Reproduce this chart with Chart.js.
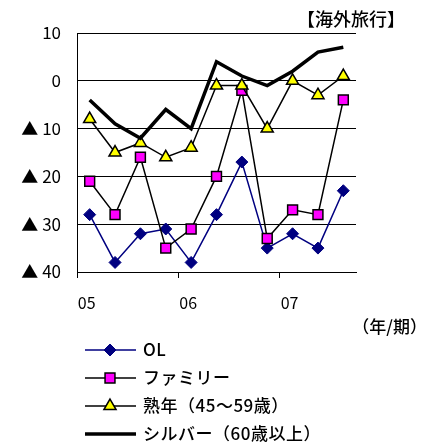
<!DOCTYPE html>
<html>
<head>
<meta charset="utf-8">
<script src="https://cdn.jsdelivr.net/npm/chart.js@4"></script>
<style>
  body { margin: 0; background: #fff; }
  canvas { display: block; }
</style>
</head>
<body>
<canvas id="grafico" width="436" height="445"></canvas>
<script>
// 四半期ごと（05〜07）
const periodos = ['05', '', '', '', '06', '', '', '', '07', '', ''];
const yTicks = [10, 0, -10, -20, -30, -40];

const ol = [-28, -38, -32, -31, -38, -28, -17, -35, -32, -35, -23];
const familia = [-21, -28, -16, -35, -31, -20, -2, -33, -27, -28, -4];
const jukunen = [-8, -15, -13, -16, -14, -1, -1, -10, 0, -3, 1];
const silver = [-4, -9, -12, -6, -10, 4, 1, -1, 2, 6, 7];

const nomes = ['OL', 'ファミリー', '熟年（45～59歳）', 'シルバー（60歳以上）'];

const FONTE_JP = '"Noto Sans CJK JP", sans-serif';

function fmtTick(v) {
  return v < 0 ? '▲ ' + Math.abs(v) : String(v);
}

const legendaPlugin = {
  id: 'legendaVertical',
  afterDraw(chart) {
    const ctx = chart.ctx;
    ctx.save();
    // título e unidade
    ctx.fillStyle = '#000';
    ctx.font = '500 18px ' + FONTE_JP;
    ctx.textBaseline = 'middle';
    ctx.textAlign = 'right';
    ctx.fillText('【海外旅行】', 405, 19);
    ctx.font = '500 17px ' + FONTE_JP;
    ctx.fillText('（年/期）', 427, 327);

    // legenda vertical
    ctx.textAlign = 'left';
    chart.data.datasets.forEach((ds, i) => {
      const y = 350 + i * 28;
      ctx.strokeStyle = ds.borderColor;
      ctx.lineWidth = ds.borderWidth;
      ctx.beginPath();
      ctx.moveTo(85, y);
      ctx.lineTo(136, y);
      ctx.stroke();
      if (ds.pointRadius > 0) {
        ctx.fillStyle = ds.pointBackgroundColor;
        ctx.strokeStyle = ds.pointBorderColor;
        ctx.lineWidth = ds.pointBorderWidth;
        Chart.helpers.drawPoint(ctx, {
          pointStyle: ds.pointStyle, radius: ds.pointRadius,
          rotation: 0, borderWidth: ds.pointBorderWidth
        }, 110, y);
      }
      ctx.fillStyle = '#000';
      ctx.font = '500 17px ' + FONTE_JP;
      ctx.letterSpacing = '0.5px';
      ctx.fillText(ds.label, 143, y);
      ctx.letterSpacing = '0px';
    });
    ctx.restore();
  }
};

new Chart(document.getElementById('grafico'), {
  type: 'line',
  data: {
    labels: periodos,
    datasets: [
      { label: nomes[0], data: ol, order: 4, borderColor: '#000080', borderWidth: 1.5,
        pointStyle: 'rectRot', pointRadius: 6, pointBackgroundColor: '#000080',
        pointBorderColor: '#000080', pointBorderWidth: 1 },
      { label: nomes[1], data: familia, order: 3, borderColor: '#000', borderWidth: 1.5,
        pointStyle: 'rect', pointRadius: 7, pointBackgroundColor: '#ff00ff',
        pointBorderColor: '#000', pointBorderWidth: 1.5 },
      { label: nomes[2], data: jukunen, order: 2, borderColor: '#000', borderWidth: 1.5,
        pointStyle: 'triangle', pointRadius: 7, pointBackgroundColor: '#ffff00',
        pointBorderColor: '#000', pointBorderWidth: 1.5 },
      { label: nomes[3], data: silver, order: 1, borderColor: '#000', borderWidth: 3.5,
        pointRadius: 0, pointBackgroundColor: '#000', pointBorderColor: '#000', pointBorderWidth: 0 }
    ]
  },
  options: {
    responsive: false,
    animation: false,
    events: [],
    layout: { padding: { top: 33, right: 80, left: 0, bottom: 0 } },
    elements: { line: { tension: 0 } },
    plugins: { legend: { display: false }, tooltip: { enabled: false } },
    scales: {
      x: {
        offset: true,
        afterFit: s => { s.height = 173; },
        grid: {
          offset: true, drawOnChartArea: false, drawTicks: true, tickLength: 6,
          color: c => (c.index % 4 === 0 ? '#000' : 'rgba(0,0,0,0)')
        },
        border: { color: '#000', width: 1 },
        ticks: { autoSkip: false, maxRotation: 0, color: '#000', padding: 15, labelOffset: -3,
                 font: { family: FONTE_JP, size: 16 } }
      },
      y: {
        min: -40, max: 10,
        afterFit: s => { s.width = 77; },
        afterBuildTicks: s => { s.ticks = yTicks.map(v => ({ value: v })); },
        grid: { color: '#000', lineWidth: 1, drawTicks: false },
        border: { color: '#000', width: 1 },
        ticks: { color: '#000', padding: 16, callback: v => fmtTick(v),
                 font: { family: FONTE_JP, size: 17 } }
      }
    }
  },
  plugins: [legendaPlugin]
});
</script>
</body>
</html>
